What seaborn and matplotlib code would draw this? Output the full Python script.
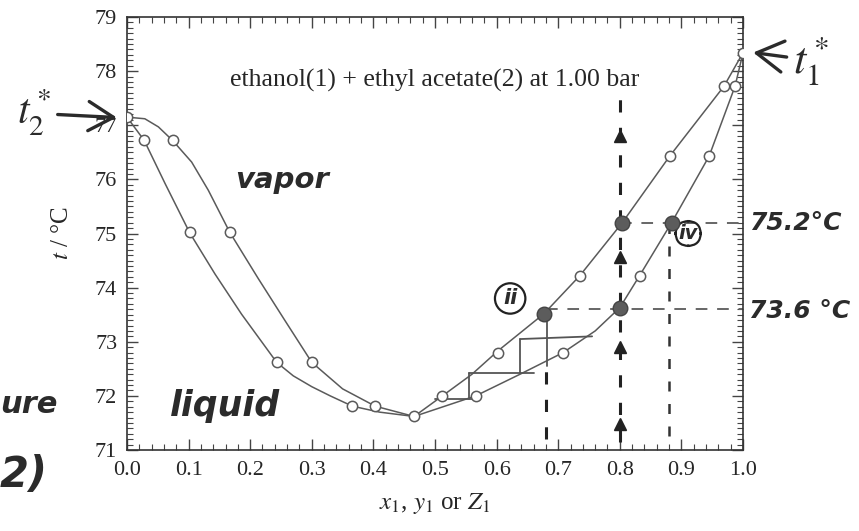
import numpy as np
import pandas as pd
import seaborn as sns
import matplotlib.pyplot as plt

t_meas = [76.72, 75.02, 72.62, 71.81, 72.00, 72.80, 74.22, 76.43, 77.72]
x_meas = [0.028, 0.102, 0.243, 0.366, 0.566, 0.708, 0.832, 0.945, 0.987]   # liquid
y_meas = [0.074, 0.167, 0.300, 0.403, 0.512, 0.602, 0.735, 0.881, 0.969]   # vapor
x_end = [0.0, 0.466, 1.0]
t_end = [77.15, 71.62, 78.34]

# --- curve paths ---
liq_x = [0.0, 0.028, 0.062, 0.102, 0.143, 0.186, 0.243, 0.270, 0.300, 0.330, 0.366, 0.410, 0.466,
         0.566, 0.638, 0.708, 0.760, 0.800, 0.832, 0.884, 0.945, 0.987, 1.0]
liq_t = [77.15, 76.72, 75.92, 75.01, 74.25, 73.51, 72.62, 72.37, 72.17, 72.00, 71.81, 71.70, 71.62,
         72.00, 72.40, 72.80, 73.20, 73.63, 74.22, 75.20, 76.43, 77.72, 78.34]
vap_x = [0.0, 0.029, 0.051, 0.074, 0.105, 0.132, 0.167, 0.213, 0.256, 0.300,
         0.350, 0.403, 0.466, 0.512, 0.560, 0.602, 0.677, 0.735, 0.804, 0.881, 0.969, 1.0]
vap_t = [77.15, 77.12, 76.97, 76.72, 76.32, 75.80, 75.02, 74.17, 73.40, 72.62,
         72.13, 71.81, 71.62, 72.00, 72.40, 72.83, 73.52, 74.22, 75.20, 76.43, 77.72, 78.34]

# --- hand-drawn annotations ---
dot_x = [0.804, 0.884, 0.677, 0.800]
dot_t = [75.20, 75.20, 73.52, 73.63]
stair_x = [(0.682, 0.682), (0.638, 0.755), (0.638, 0.638), (0.555, 0.660), (0.555, 0.555), (0.50, 0.565)]
stair_t = [(73.50, 72.55), (73.05, 73.10), (73.05, 72.43), (72.43, 72.43), (72.43, 71.95), (71.95, 71.95)]
arrow_t = [76.80, 74.56, 72.90, 71.48]

sns.set_style("ticks")
plt.rcParams['font.family'] = ['Liberation Serif', 'DejaVu Serif']
plt.rcParams['mathtext.fontset'] = 'stix'

fig = plt.figure(figsize=(8.59, 5.31), dpi=100)
ax = fig.add_axes([0.1478, 0.1525, 0.7172, 0.8155])

line_c = '#5a5a5a'
sns.lineplot(x=liq_x, y=liq_t, sort=False, color=line_c, lw=1.1, ax=ax)
sns.lineplot(x=vap_x, y=vap_t, sort=False, color=line_c, lw=1.1, ax=ax)

pts = pd.DataFrame({'z': x_meas + y_meas + x_end, 't': t_meas + t_meas + t_end})
sns.scatterplot(data=pts, x='z', y='t', marker='o', s=55, facecolor='white',
                edgecolor=line_c, linewidth=1.1, zorder=3, ax=ax)

# annotations
hand = dict(family='DejaVu Sans', style='italic', fontweight='bold', color='#2b2b2b')
ax.plot([0.80, 1.0], [75.2, 75.2], ls=(0, (6, 5)), color='#666', lw=1.4)
ax.plot([0.68, 1.0], [73.6, 73.6], ls=(0, (6, 5)), color='#666', lw=1.4)
ax.plot([0.80, 0.80], [71.15, 77.5], ls=(0, (4, 5)), color='#222', lw=2.2)
ax.plot([0.68, 0.68], [71.2, 72.5], ls=(0, (4, 5)), color='#222', lw=2.2)
ax.plot([0.88, 0.88], [71.25, 75.1], ls=(0, (4, 5)), color='#333', lw=1.8)
ax.plot([0.80] * len(arrow_t), arrow_t, ls='none', marker='^', ms=8, color='#222')
for sx, st in zip(stair_x, stair_t):
    ax.plot(sx, st, color='#555', lw=1.3)
ax.scatter(dot_x, dot_t, s=110, color='#5c5c5c', zorder=4, edgecolor='#444')

ax.text(0.50, 77.83, 'ethanol(1) + ethyl acetate(2) at 1.00 bar', ha='center', va='center', fontsize=18.5)
ax.text(0.252, 75.98, 'vapor', ha='center', va='center', fontsize=21, **hand)
ax.text(0.159, 71.81, 'liquid', ha='center', va='center', fontsize=25, **hand)
ax.text(0.622, 73.80, 'ii', ha='center', va='center', fontsize=15, **hand,
        bbox=dict(boxstyle='circle,pad=0.25', fc='none', ec='#222', lw=1.6))
ax.text(0.911, 75.00, 'iv', ha='center', va='center', fontsize=14, **hand,
        bbox=dict(boxstyle='round,pad=0.15,rounding_size=0.7', fc='none', ec='#222', lw=1.6))
ax.text(1.01, 75.2, '75.2°C', ha='left', va='center', fontsize=18, clip_on=False, **hand)
ax.text(1.01, 73.57, '73.6 °C', ha='left', va='center', fontsize=18, clip_on=False, **hand)
ax.annotate(r'$t_2^*$', xy=(-0.012, 77.14), xytext=(-0.15, 77.22), fontsize=30,
            ha='center', va='center', annotation_clip=False, color='#2b2b2b',
            arrowprops=dict(arrowstyle='->,head_length=0.6,head_width=0.35', lw=2.4, color='#2b2b2b'))
ax.annotate(r'$t_1^*$', xy=(1.012, 78.35), xytext=(1.11, 78.2), fontsize=32,
            ha='center', va='center', annotation_clip=False, color='#2b2b2b',
            arrowprops=dict(arrowstyle='->,head_length=0.6,head_width=0.35', lw=2.4, color='#2b2b2b'))
fig.text(0.0, 0.238, 'ure', ha='left', va='center', fontsize=22, **hand)
fig.text(0.0, 0.105, '2)', ha='left', va='center', fontsize=30, **hand)

ax.set_xlim(0.0, 1.0)
ax.set_ylim(71, 79)
ax.set_xticks(np.arange(0, 1.01, 0.1))
ax.set_xticks(np.arange(0, 1.001, 0.02), minor=True)
ax.set_yticks(np.arange(71, 79.1, 1))
ax.set_yticks(np.arange(71, 79.01, 0.1), minor=True)
ax.xaxis.set_major_formatter(plt.FormatStrFormatter('%.1f'))
ax.tick_params(which='both', direction='in', top=True, right=True, labelsize=16, color='#444')
ax.tick_params(which='major', length=8, width=1)
ax.tick_params(which='minor', length=4, width=0.8)
ax.tick_params(axis='x', pad=8)
ax.tick_params(axis='y', pad=7)
for s in ax.spines.values():
    s.set_linewidth(1.2)
    s.set_color('#333')

ax.set_xlabel(r'$x_1$, $y_1$ or $Z_1$', fontsize=18, labelpad=8)
ax.set_ylabel(r'$t$ / °C', fontsize=18, labelpad=16)

fig.savefig('out.png', dpi=100)
